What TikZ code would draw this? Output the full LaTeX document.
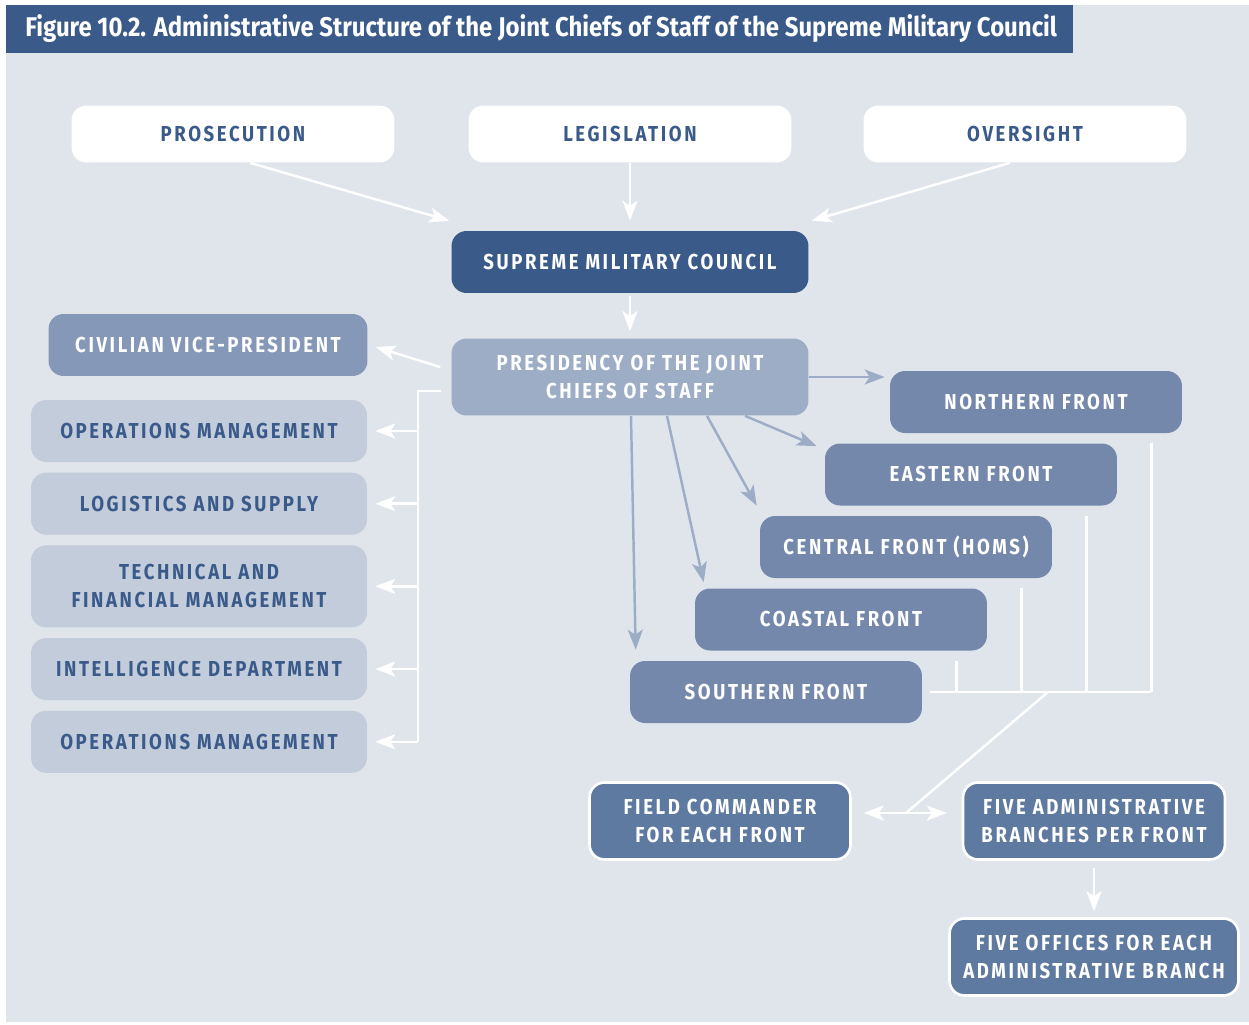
\documentclass[tikz,border=0pt]{standalone}
\usepackage{fontspec}
\usepackage{tikz}
\setmainfont{Fira Sans}
\newfontfamily\titleface[FakeStretch=0.885]{Fira Sans}
\newfontfamily\capsface[FakeStretch=0.86, LetterSpace=12]{Fira Sans}
\newcommand{\titlefont}{\titleface\bfseries\fontsize{15.4}{18}\selectfont}
\newcommand{\boxfont}{\capsface\bfseries\fontsize{12.3}{15.8}\selectfont}
\usetikzlibrary{positioning, arrows.meta}

\definecolor{canvas}{HTML}{E0E5EC}
\definecolor{navy}{HTML}{3A5A8A}
\definecolor{paleblue}{HTML}{9DADC6}
\definecolor{vpblue}{HTML}{8598B8}
\definecolor{lightblue}{HTML}{C3CCDB}
\definecolor{midblue}{HTML}{7388AB}
\definecolor{deepblue}{HTML}{5F7AA0}

\begin{document}
\begin{tikzpicture}[x=0.02cm, y=-0.02cm]

  \tikzstyle{box}=[rounded corners=0.3cm, align=center, inner sep=0pt, font=\boxfont]
  \tikzstyle{top}=[box, fill=white, text=navy, minimum width=6.46cm, minimum height=1.14cm]
  \tikzstyle{council}=[box, fill=navy, text=white, minimum width=7.14cm, minimum height=1.24cm]
  \tikzstyle{presidency}=[box, fill=paleblue, text=white, minimum width=7.14cm, minimum height=1.54cm]
  \tikzstyle{dept}=[box, fill=lightblue, text=navy, minimum width=6.72cm, minimum height=1.24cm]
  \tikzstyle{front}=[box, fill=midblue, text=white, minimum width=5.84cm, minimum height=1.24cm]
  \tikzstyle{field}=[box, fill=deepblue, text=white, draw=white, line width=1.5pt, minimum height=1.54cm]
  \tikzstyle{link}=[draw=white, line width=1.4pt]
  \tikzstyle{arrow}=[link, -{Stealth[length=0.4cm, width=0.3cm, inset=0.1cm]}]
  \tikzstyle{feed}=[arrow, draw=paleblue]

  \useasboundingbox (0,0) rectangle (1249,1025);
  \fill[white] (0,0) rectangle (1249,1025);
  \fill[canvas] (6,5) rectangle (1249,1022);
  \fill[navy] (6,5) rectangle (1073,53);
  \node[anchor=west, text=white, font=\titlefont, inner sep=0pt] (title) at (25,29)
    {Figure 10.2. Administrative Structure of the Joint Chiefs of Staff of the Supreme Military Council};

  \node [top] (prosecution) at (233,134) {PROSECUTION};
  \node [top] (legislation) at (630,134) {LEGISLATION};
  \node [top] (oversight) at (1025,134) {OVERSIGHT};

  \node [council] (smc) at (630,262) {SUPREME MILITARY COUNCIL};
  \node [presidency] (jcs) at (630,377) {PRESIDENCY OF THE JOINT\\CHIEFS OF STAFF};

  \node [dept, fill=vpblue, text=white, minimum width=6.38cm] (vp) at (208,345) {CIVILIAN VICE-PRESIDENT};
  \node [dept] (ops) at (199,431) {OPERATIONS MANAGEMENT};
  \node [dept, below = 0.2cm of ops] (logistics) {LOGISTICS AND SUPPLY};
  \node [dept, below = 0.2cm of logistics, minimum height=1.64cm] (technical) {TECHNICAL AND\\FINANCIAL MANAGEMENT};
  \node [dept, below = 0.2cm of technical] (intelligence) {INTELLIGENCE DEPARTMENT};
  \node [dept, below = 0.2cm of intelligence] (ops2) {OPERATIONS MANAGEMENT};

  \foreach \name [count=\i from 0] in {NORTHERN FRONT, EASTERN FRONT, CENTRAL FRONT (HOMS), COASTAL FRONT, SOUTHERN FRONT} {
    \node [front] (front-\i) at ({1036-65*\i},{402+72.5*\i}) {\name};
  }

  \node [field, minimum width=5.22cm] (commander) at (720,821) {FIELD COMMANDER\\FOR EACH FRONT};
  \node [field, minimum width=5.24cm] (branches) at (1094,821) {FIVE ADMINISTRATIVE\\BRANCHES PER FRONT};
  \node [field, minimum width=5.78cm] (offices) at (1094,957) {FIVE OFFICES FOR EACH\\ADMINISTRATIVE BRANCH};

  \draw [arrow] ([xshift=0.34cm]prosecution.south) -- ([shift={(-0.04cm,0.2cm)}]smc.north west);
  \draw [arrow, shorten >=0.2cm] (legislation.south) -- (smc.north);
  \draw [arrow] ([xshift=-0.3cm]oversight.south) -- ([shift={(0.06cm,0.2cm)}]smc.north east);
  \draw [arrow, shorten <=0.06cm, shorten >=0.14cm] (smc) -- (jcs);

  \draw [arrow] ([shift={(-0.22cm,0.2cm)}]jcs.west) -- ([shift={(0.16cm,-0.04cm)}]vp.east);
  \coordinate (spine) at (418,390);
  \draw [link] ([shift={(-0.2cm,-0.28cm)}]jcs.west) -| (spine |- ops2.east);
  \foreach \n in {ops, logistics, technical, intelligence, ops2} {
    \draw [arrow] (spine |- \n.east) -- ([xshift=0.16cm]\n.east);
  }

  \draw [feed] (jcs.east) -- ([xshift=-0.1cm]jcs.east -| front-0.west);
  \draw [feed] ([xshift=2.3cm]jcs.south) -- ([shift={(-0.16cm,-0.06cm)}]front-1.north west);
  \draw [feed] ([xshift=1.54cm]jcs.south) -- ([shift={(-0.06cm,0.2cm)}]front-2.north west);
  \draw [feed] ([xshift=0.74cm]jcs.south) -- ([shift={(0.18cm,0.12cm)}]front-3.north west);
  \draw [feed] ([xshift=0.02cm]jcs.south) -- ([shift={(0.12cm,0.22cm)}]front-4.north west);

  % fronts report down to the field level
  \foreach \i in {0,...,3} {
    \draw [link] ([shift={(-0.62cm,-0.2cm)}]front-\i.south east) -- ([xshift=-0.62cm]front-\i.south east |- front-4.east);
  }
  \draw [link] ([xshift=0.16cm]front-4.east) -- ([xshift=-0.62cm]front-0.south east |- front-4.east);
  \coordinate (junction) at (1048,692);
  \coordinate (split) at (906,813);
  \draw [link] (junction) -- (split);
  \draw [arrow] (split) -- ([xshift=0.24cm]split -| commander.east);
  \draw [arrow] (split) -- ([xshift=-0.3cm]split -| branches.west);
  \draw [arrow, shorten <=0.14cm, shorten >=0.12cm] (branches) -- (offices);

\end{tikzpicture}
\end{document}
